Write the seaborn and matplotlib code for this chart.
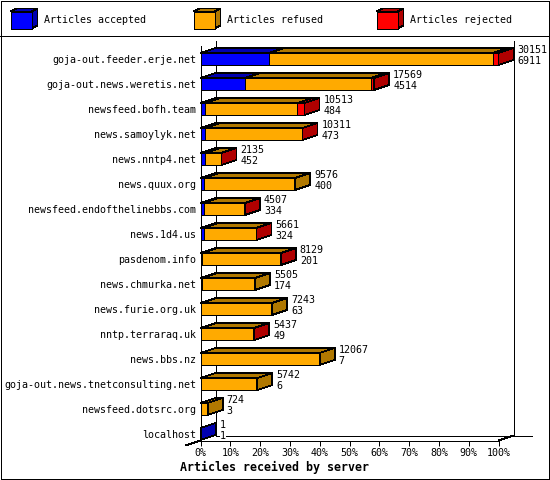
import matplotlib
matplotlib.use("Agg")
import pandas as pd
import seaborn as sns
import matplotlib.pyplot as plt

servers = ["goja-out.feeder.erje.net", "goja-out.news.weretis.net", "newsfeed.bofh.team",
           "news.samoylyk.net", "news.nntp4.net", "news.quux.org",
           "newsfeed.endofthelinebbs.com", "news.1d4.us", "pasdenom.info", "news.chmurka.net",
           "news.furie.org.uk", "nntp.terraraq.uk", "news.bbs.nz",
           "goja-out.news.tnetconsulting.net", "newsfeed.dotsrc.org", "localhost"]
total = [30151, 17569, 10513, 10311, 2135, 9576, 4507, 5661, 8129, 5505, 7243, 5437, 12067, 5742, 724, 1]
accepted = [6911, 4514, 484, 473, 452, 400, 334, 324, 201, 174, 63, 49, 7, 6, 3, 1]
rejected = [600, 300, 700, 10, 60, 0, 10, 80, 10, 0, 0, 5, 0, 0, 0, 0]

legend_names = ["Articles accepted", "Articles refused", "Articles rejected"]
colors = ["#0000ff", "#ffaa00", "#ff0000"]
dark = ["#0000b0", "#b07800", "#b00000"]

W, H = 550, 480
X0, X1, Y_TOP, Y_BOT = 200.5, 498.5, 40.5, 440.5
DX_PX, DY_PX = 15, 5
ROW_PX = 25
ROW0_PX = 59
LW = 0.55
FS = 7.2

plt.rcParams["font.family"] = ["DejaVu Sans Mono"]

df = pd.DataFrame({"server": servers, "total": total, "accepted": accepted, "rejected": rejected})
scale = 100 / df["total"].max()
df["end_acc"] = df["accepted"] * scale
df["end_ref"] = (df["total"] - df["rejected"]) * scale
df["end_all"] = df["total"] * scale

fig = plt.figure(figsize=(W / 100, H / 100), dpi=100, facecolor="white")

# full-figure layer in pixel coords for the frame, the walls and the legend
bg = fig.add_axes([0, 0, 1, 1], zorder=0)
bg.set_xlim(0, W)
bg.set_ylim(H, 0)
bg.axis("off")
line = dict(color="black", lw=LW, solid_capstyle="butt", antialiased=False, clip_on=False)
bg.plot([0.5, W - 1, W - 1, 0.5, 0.5], [0.5, 0.5, H - 1, H - 1, 0.5], **line)
bg.plot([0, W], [35.5, 35.5], **line)
bg.plot([X0 + DX_PX, X0 + DX_PX], [Y_TOP, Y_BOT - DY_PX], **line)
bg.plot([X1 + DX_PX, X1 + DX_PX], [Y_TOP, Y_BOT - DY_PX], **line)
bg.plot([X0 + DX_PX, 532], [Y_BOT - DY_PX, Y_BOT - DY_PX], **line)
bg.plot([X0 - DX_PX, X0], [Y_BOT + DY_PX, Y_BOT], **line)
bg.plot([X1, X1 + DX_PX], [Y_BOT, Y_BOT - DY_PX], **line)

for name, c, d, x, tx in zip(legend_names, colors, dark, [10.5, 193.5, 376.5], [44, 227, 410]):
    y0, y1, w, dx, dy = 11.5, 28.5, 21, 6, 3
    box = dict(ec="black", lw=LW, antialiased=False)
    bg.fill([x, x + w, x + w + dx, x + dx], [y0, y0, y0 - dy, y0 - dy], fc=d, **box)
    bg.fill([x + w, x + w + dx, x + w + dx, x + w], [y0, y0 - dy, y1 - dy, y1], fc=d, **box)
    bg.fill([x, x + w, x + w, x], [y0, y0, y1, y1], fc=c, **box)
    bg.text(tx, 20, name, fontsize=FS, va="center", ha="left")

ax = fig.add_axes([X0 / W, 1 - Y_BOT / H, (X1 - X0) / W, (Y_BOT - Y_TOP) / H], zorder=1)
ax.patch.set_alpha(0)

bar_kw = dict(data=df, y="server", orient="h", width=12 / ROW_PX, edgecolor="black",
              linewidth=LW, ax=ax, order=servers, saturation=1, antialiased=False)
sns.barplot(x="end_all", color=colors[2], **bar_kw)
sns.barplot(x="end_ref", color=colors[1], **bar_kw)
sns.barplot(x="end_acc", color=colors[0], **bar_kw)

dx = DX_PX / (X1 - X0) * 100
dy = DY_PX / ROW_PX
half = 6 / ROW_PX
edge = dict(ec="black", lw=LW, clip_on=False, antialiased=False)

for i, row in df.iterrows():
    top = i - half
    bot = i + half
    stops = [(0, row["end_acc"], 0), (row["end_acc"], row["end_ref"], 1), (row["end_ref"], row["end_all"], 2)]
    last = 0
    for a, b, k in stops:
        if b > a:
            ax.fill([a, b, b + dx, a + dx], [top, top, top - dy, top - dy], fc=dark[k], **edge)
            last = k
    end = row["end_all"]
    ax.fill([end, end + dx, end + dx, end], [top, top - dy, bot - dy, bot], fc=dark[last], **edge)
    lx = end + 19 / (X1 - X0) * 100
    ax.text(lx, i - 9 / ROW_PX, str(row["total"]), fontsize=FS, va="center", ha="left",
            clip_on=False, bbox=dict(fc="white", ec="none", pad=0))
    ax.text(lx, i + 2 / ROW_PX, str(row["accepted"]), fontsize=FS, va="center", ha="left",
            clip_on=False, bbox=dict(fc="white", ec="none", pad=0))

ax.set_xlim(0, 100)
ax.set_ylim((Y_BOT - ROW0_PX) / ROW_PX, (Y_TOP - ROW0_PX) / ROW_PX)
ax.set_xticks(range(0, 101, 10))
ax.set_xticklabels([f"{v}%" for v in range(0, 101, 10)], fontsize=FS)
ax.tick_params(axis="x", length=3.6, width=0.72, pad=2)
ax.tick_params(axis="y", length=0, pad=3, labelsize=FS)
ax.set_xlabel("")
ax.set_ylabel("")
sns.despine(ax=ax, top=True, right=True)
for s in ["left", "bottom"]:
    ax.spines[s].set_linewidth(0.72)
ax.spines["left"].set_bounds(ax.get_ylim()[0], (45.5 - ROW0_PX) / ROW_PX)

fig.text(274 / W, 1 - 467 / H, "Articles received by server", fontsize=8.4, fontweight="bold",
         ha="center", va="center")

fig.savefig("out.png", dpi=100)
